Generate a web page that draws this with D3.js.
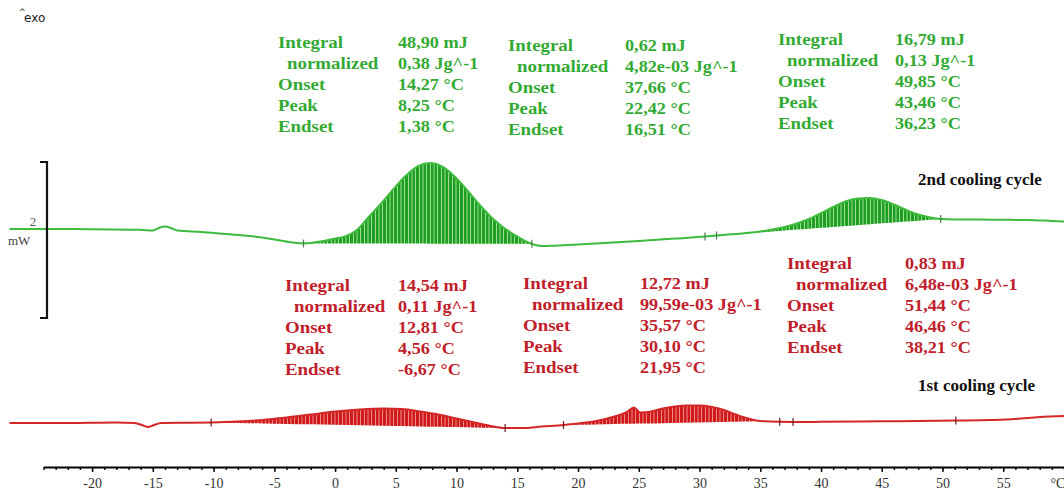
<!DOCTYPE html>
<html lang="en">
<head>
<meta charset="UTF-8">
<title>DSC cooling cycles</title>
<script src="https://d3js.org/d3.v7.min.js"></script>
<style>
  body { margin: 0; background: #fff; }
  svg { display: block; }
</style>
</head>
<body>
<svg id="chart" width="1064" height="492"></svg>
<script>
// temperature (°C), heat flow (mW)
const greenCurve = [
  [-26.8, 3.051], [-24, 3.051], [-20, 3.049], [-16, 3.041], [-15, 3.032], [-14.4, 3.071],
  [-14, 3.083], [-13.5, 3.064], [-13, 3.032], [-11, 3.013], [-9, 2.987], [-7, 2.962],
  [-5, 2.917], [-3.5, 2.878], [-2.6, 2.865], [-1.2, 2.890], [-0.2, 2.923], [0.8, 2.955],
  [1.8, 3.038], [2.8, 3.212], [3.8, 3.378], [4.8, 3.562], [5.8, 3.731], [6.8, 3.854],
  [7.8, 3.897], [8.8, 3.854], [9.8, 3.731], [10.8, 3.562], [11.8, 3.378], [12.8, 3.212],
  [13.8, 3.077], [14.8, 2.974], [15.8, 2.885], [16.5, 2.846], [17, 2.833], [20, 2.853],
  [25, 2.897], [28, 2.929], [30.45, 2.955], [31.4, 2.968], [33, 2.987], [35, 3.019],
  [36, 3.045], [37, 3.077], [38, 3.122], [39, 3.179], [40, 3.256], [41, 3.333], [42, 3.404],
  [43, 3.442], [44, 3.449], [45, 3.423], [46, 3.365], [47, 3.295], [48, 3.237], [49, 3.199],
  [49.85, 3.179], [51, 3.173], [53, 3.173], [55, 3.169], [57, 3.167], [59, 3.154], [60, 3.147]
];
const redCurve = [
  [-26.8, 0.564], [-22, 0.564], [-18, 0.571], [-16.5, 0.564], [-15.8, 0.532], [-15.4, 0.513],
  [-15, 0.532], [-14.3, 0.564], [-12, 0.567], [-10.2, 0.571], [-8, 0.583], [-6, 0.603],
  [-4, 0.635], [-2, 0.673], [0, 0.712], [2, 0.737], [4, 0.750], [5.5, 0.744], [7, 0.712],
  [8.5, 0.673], [10, 0.622], [11.5, 0.571], [12.8, 0.526], [14, 0.500], [15.5, 0.500],
  [17, 0.519], [18.8, 0.538], [20, 0.558], [21.5, 0.590], [23, 0.647], [24, 0.705],
  [24.6, 0.763], [25.1, 0.699], [25.8, 0.705], [27, 0.750], [28, 0.776], [29, 0.788],
  [30, 0.788], [31, 0.769], [32, 0.731], [33, 0.673], [34, 0.622], [35, 0.590], [36.6, 0.579],
  [37.7, 0.577], [40, 0.579], [45, 0.586], [48, 0.590], [51.1, 0.596], [54, 0.603],
  [56, 0.615], [58, 0.641], [60, 0.654]
];
const greenMarks = [-2.6, 16.2, 30.45, 31.4, 49.85];
const redMarks = [-10.2, 14.0, 18.8, 36.6, 37.7, 51.1];
const greenPeaks = [[-2.6, 16.2], [31.4, 49.85]];
const redPeaks = [[-10.2, 14.0], [18.8, 35.5]];

const majorTicks = d3.range(-20, 56, 5);
const minorTicks = d3.range(-24, 61, 1);
const rowLabels = ["Integral", " normalized", "Onset", "Peak", "Endset"];
const greenResults = [
  ["48,90 mJ", "0,38 Jg^-1", "14,27 °C", "8,25 °C", "1,38 °C"],
  ["0,62 mJ", "4,82e-03 Jg^-1", "37,66 °C", "22,42 °C", "16,51 °C"],
  ["16,79 mJ", "0,13 Jg^-1", "49,85 °C", "43,46 °C", "36,23 °C"]
];
const redResults = [
  ["14,54 mJ", "0,11 Jg^-1", "12,81 °C", "4,56 °C", "-6,67 °C"],
  ["12,72 mJ", "99,59e-03 Jg^-1", "35,57 °C", "30,10 °C", "21,95 °C"],
  ["0,83 mJ", "6,48e-03 Jg^-1", "51,44 °C", "46,46 °C", "38,21 °C"]
];
const cycleNames = ["2nd cooling cycle", "1st cooling cycle"];
const scaleBarLow = 1.91, scaleBarSpan = 2;

const serif = "Liberation Serif";
const svg = d3.select("#chart");
const x = d3.scaleLinear().domain([-24, 60]).range([43.5, 1064]);
const y = d3.scaleLinear().domain([0, 6]).range([467, -1]);

// hatched fills for the integrated peaks
const defs = svg.append("defs");
function hatch(id, base, light) {
  const p = defs.append("pattern").attr("id", id)
    .attr("patternUnits", "userSpaceOnUse").attr("width", 11).attr("height", 10);
  p.append("rect").attr("width", 11).attr("height", 10).attr("fill", base);
  [1, 4.5, 8].forEach(s => p.append("rect").attr("x", s).attr("width", 1)
    .attr("height", 10).attr("fill", light).attr("opacity", 0.75));
}
hatch("gHatch", "#1f9f1f", "#c9f0c9");
hatch("rHatch", "#d01a1a", "#f6b0b0");

function valueAt(curve, t) {
  const i = d3.bisector(d => d[0]).left(curve, t);
  if (i <= 0) return curve[0][1];
  if (i >= curve.length) return curve[curve.length - 1][1];
  const a = curve[i - 1], b = curve[i];
  return a[1] + (b[1] - a[1]) * (t - a[0]) / (b[0] - a[0]);
}

function drawCycle(curve, peaks, marks, fillId, lineColor, markColor) {
  peaks.forEach(([t0, t1]) => {
    const v0 = valueAt(curve, t0), v1 = valueAt(curve, t1);
    const base = t => v0 + (v1 - v0) * (t - t0) / (t1 - t0);
    const pts = [[t0, v0]].concat(curve.filter(d => d[0] > t0 && d[0] < t1), [[t1, v1]]);
    const area = d3.area().curve(d3.curveMonotoneX)
      .x(d => x(d[0]))
      .y0(d => y(base(d[0])))
      .y1(d => y(Math.max(d[1], base(d[0]))));
    svg.append("path").datum(pts).attr("d", area).attr("fill", `url(#${fillId})`);
  });
  const line = d3.line().curve(d3.curveMonotoneX).x(d => x(d[0])).y(d => y(d[1]));
  svg.append("path").datum(curve).attr("d", line)
    .attr("fill", "none").attr("stroke", lineColor).attr("stroke-width", 2);
  svg.append("g").selectAll("line").data(marks).join("line")
    .attr("x1", d => x(d)).attr("x2", d => x(d))
    .attr("y1", d => y(valueAt(curve, d)) - 4).attr("y2", d => y(valueAt(curve, d)) + 4)
    .attr("stroke", markColor).attr("stroke-width", 1.2);
}

drawCycle(greenCurve, greenPeaks, greenMarks, "gHatch", "#3dbb3d", "#4f7f4f");
drawCycle(redCurve, redPeaks, redMarks, "rHatch", "#d42626", "#6a1c1c");

// temperature axis
const minorAxis = d3.axisBottom(x).tickValues(minorTicks).tickSize(3).tickSizeOuter(0).tickFormat("");
const majorAxis = d3.axisBottom(x).tickValues(majorTicks).tickSize(5).tickSizeOuter(0)
  .tickPadding(6).tickFormat(d => String(d));
const gMinor = svg.append("g").attr("transform", "translate(0,467)").call(minorAxis);
const gMajor = svg.append("g").attr("transform", "translate(0,467)").call(majorAxis);
gMinor.selectAll("line").attr("stroke", "#111").attr("stroke-width", 1.5);
gMajor.selectAll("line").attr("stroke", "#111").attr("stroke-width", 1.5);
gMajor.select(".domain").attr("stroke", "#000").attr("stroke-width", 2.2);
gMinor.select(".domain").remove();
gMajor.attr("font-family", serif).attr("font-size", 14);
gMajor.selectAll("text").attr("fill", "#333");
svg.append("text").attr("x", x(59.5)).attr("y", 488).attr("text-anchor", "middle")
  .attr("font-family", serif).attr("font-size", 14).attr("fill", "#333").text("°C");

// exo label
svg.append("text").attr("x", 19).attr("y", 15).attr("font-family", "DejaVu Sans")
  .attr("font-size", 8).attr("fill", "#222").text("^");
svg.append("text").attr("x", 24).attr("y", 22).attr("font-family", "DejaVu Sans")
  .attr("font-size", 12).attr("fill", "#222").text("exo");

// 2 mW scale bar
const barTop = y(scaleBarLow + scaleBarSpan), barBot = y(scaleBarLow);
svg.append("path")
  .attr("d", `M40,${barTop}H47V${barBot}H40`)
  .attr("fill", "none").attr("stroke", "#111").attr("stroke-width", 2.2);
svg.append("text").attr("x", 33).attr("y", 226).attr("text-anchor", "middle")
  .attr("font-family", serif).attr("font-size", 13).attr("fill", "#555")
  .text(scaleBarSpan);
svg.append("text").attr("x", 8).attr("y", 245)
  .attr("font-family", serif).attr("font-size", 13).attr("fill", "#444")
  .text("mW");

// result blocks
function drawBlock(results, lx, vx, top, color) {
  const g = svg.append("g").attr("fill", color).attr("font-family", serif)
    .attr("font-weight", "bold").attr("font-size", 17.5);
  rowLabels.forEach((lab, i) => {
    const yy = top + i * 21;
    g.append("text").attr("transform", `translate(${lx + (i === 1 ? 9 : 0)},${yy}) scale(1.08,1)`)
      .text(lab.trim());
    g.append("text").attr("transform", `translate(${vx},${yy}) scale(1.04,1)`).text(results[i]);
  });
}
const green = "#33aa33", red = "#c0202a";
drawBlock(greenResults[0], 278, 398, 48, green);
drawBlock(greenResults[1], 508, 625, 51, green);
drawBlock(greenResults[2], 778, 895, 45, green);
drawBlock(redResults[0], 285, 398, 291, red);
drawBlock(redResults[1], 523, 640, 289, red);
drawBlock(redResults[2], 787, 905, 269, red);

svg.append("text").attr("x", 918).attr("y", 185)
  .attr("font-family", serif).attr("font-weight", "bold")
  .attr("font-size", 17).attr("fill", "#111").text(cycleNames[0]);
svg.append("text").attr("x", 918).attr("y", 391)
  .attr("font-family", serif).attr("font-weight", "bold")
  .attr("font-size", 17).attr("fill", "#111").text(cycleNames[1]);
</script>
</body>
</html>
